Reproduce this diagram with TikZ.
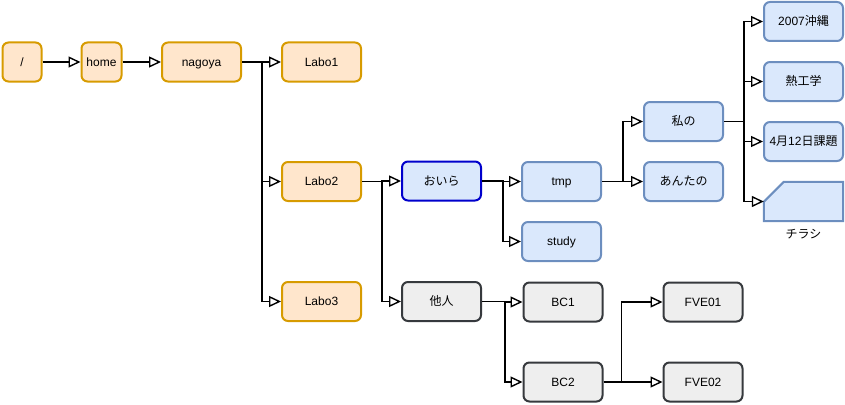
\documentclass[tikz,border=0pt]{standalone}
\usepackage{fontspec}
\setmainfont{Liberation Sans}
\newfontfamily\jp{Noto Sans CJK JP}
\usetikzlibrary{arrows.meta,calc}
\definecolor{ofill}{HTML}{FFE6CC}
\definecolor{odraw}{HTML}{D79B00}
\definecolor{bfill}{HTML}{DAE8FC}
\definecolor{bdraw}{HTML}{6C8EBF}
\definecolor{dblue}{HTML}{0000CC}
\definecolor{gfill}{HTML}{EEEEEE}
\definecolor{gdraw}{HTML}{36393D}
\tikzset{
  box/.style={rounded corners=6pt, line width=2pt, minimum width=79pt, minimum height=39pt, inner sep=0pt, text height=10.9pt, text depth=2.5pt, font=\fontsize{12}{14}\selectfont},
  obox/.style={box, fill=ofill, draw=odraw},
  bbox/.style={box, fill=bfill, draw=bdraw},
  oirabox/.style={box, fill=bfill, draw=dblue},
  gbox/.style={box, fill=gfill, draw=gdraw},
  conn/.style={line width=1.4pt, -{Triangle[length=12pt,width=11pt,fill=white]}},
}
\begin{document}
\begin{tikzpicture}[x=1pt,y=-1pt]
\useasboundingbox (0,0) rectangle (845,404);
% orange
\node[obox, minimum width=39pt] (root) at (22,62) {/};
\node[obox, minimum width=40pt] (home) at (101.5,62) {home};
\node[obox] (nagoya) at (201.5,62) {nagoya};
\node[obox] (labo1) at (321.5,62) {Labo1};
\node[obox] (labo2) at (321.5,181.5) {Labo2};
\node[obox] (labo3) at (321.5,301.5) {Labo3};
% blue
\node[oirabox] (oira) at (441.5,181) {\jp おいら};
\node[bbox] (tmp) at (561.5,181.5) {tmp};
\node[bbox] (study) at (561.5,241.5) {study};
\node[bbox] (watashi) at (683.5,121.5) {\jp 私の};
\node[bbox] (anta) at (683.5,181.5) {\jp あんたの};
\node[bbox] (okinawa) at (803.5,21.5) {2007{\jp 沖縄}};
\node[bbox] (netsu) at (803.5,81.5) {\jp 熱工学};
\node[bbox] (kadai) at (803.5,141.5) {4{\jp 月}12{\jp 日課題}};
\node[minimum width=79pt, minimum height=39pt, inner sep=0pt] (chirashi) at (803.5,201.5) {};
\fill[bfill, draw=bdraw, line width=2pt] ($(chirashi.north west)+(0,20)$) -- ($(chirashi.north west)+(20,0)$) -- (chirashi.north east) -- (chirashi.south east) -- (chirashi.south west) -- cycle;
\node[font=\jp\fontsize{12}{14}\selectfont] (chirashilbl) at (803.5,234) {チラシ};
% gray
\node[gbox] (tanin) at (441.5,301.5) {\jp 他人};
\node[gbox] (bc1) at (563,302) {BC1};
\node[gbox] (bc2) at (563,382) {BC2};
\node[gbox] (fve01) at (703,302) {FVE01};
\node[gbox] (fve02) at (703,382) {FVE02};
% connectors
\draw[conn] (root) -- (home);
\draw[conn] (home) -- (nagoya);
\foreach \t in {labo1,labo2,labo3} \draw[conn] (nagoya.east) -- ++(20,0) |- (\t.west);
\foreach \t in {oira,tanin} \draw[conn] (labo2.east) -- ++(20,0) |- (\t.west);
\foreach \t in {tmp,study} \draw[conn] (oira.east) -- ++(21,0) |- (\t.west);
\foreach \t in {watashi,anta} \draw[conn] (tmp.east) -- ++(21,0) |- (\t.west);
\foreach \t in {okinawa,netsu,kadai} \draw[conn] (watashi.east) -- ++(20,0) |- (\t.west);
\draw[conn] (watashi.east) -- ++(20,0) |- (chirashi.west);
\foreach \t in {bc1,bc2} \draw[conn] (tanin.east) -- ++(23,0) |- (\t.west);
\foreach \t in {fve01,fve02} \draw[conn] (bc2.east) -- ++(18,0) |- (\t.west);
\end{tikzpicture}
\end{document}
